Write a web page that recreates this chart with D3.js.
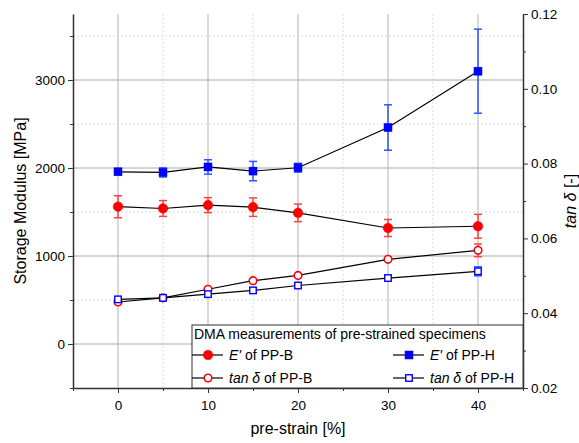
<!DOCTYPE html>
<html>
<head>
<meta charset="utf-8">
<script src="https://cdn.jsdelivr.net/npm/d3@7"></script>
<style>
  body { margin: 0; background: #fff; }
  svg { font-family: "Liberation Sans", Arial, sans-serif; }
</style>
</head>
<body>
<div id="chart-area"></div>
<script>
// pre-strain levels [%]
var strain = [0, 5, 10, 15, 20, 30, 40];

// storage modulus E' [MPa] with std dev
var eB    = [1560, 1540, 1578, 1555, 1490, 1318, 1338];
var eBerr = [125, 90, 85, 105, 100, 97, 135];
var eH    = [1957, 1950, 2012, 1965, 2003, 2460, 3100];
var eHerr = [20, 52, 82, 110, 50, 258, 478];

// tan delta [-]
var tB    = [0.0430, 0.0441, 0.0464, 0.0487, 0.0501, 0.0544, 0.0568];
var tBerr = [0, 0, 0, 0, 0, 0, 0.0017];
var tH    = [0.0437, 0.0441, 0.0451, 0.0461, 0.0474, 0.0494, 0.0512];
var tHerr = [0, 0, 0, 0, 0, 0, 0.0012];

var leftTicks = [0, 1000, 2000, 3000];
var rightTicks = [0.02, 0.04, 0.06, 0.08, 0.10, 0.12];
var xTicks = [0, 10, 20, 30, 40];

var margin = { left: 73, right: 56, top: 14, bottom: 55 };
var width = 579 - margin.left - margin.right,
    height = 443 - margin.top - margin.bottom;

var svg = d3.select("#chart-area")
    .append("svg")
        .attr("width", 579)
        .attr("height", 443);

var g = svg.append("g")
    .attr("transform", "translate(" + margin.left + "," + margin.top + ")");

var x = d3.scaleLinear().domain([-5, 45]).range([0, width]);
var y = d3.scaleLinear().domain([-500, 3750]).range([height, 0]);
var y2 = d3.scaleLinear().domain([0.02, 0.12]).range([height, 0]);

// grid: minor dotted, major solid
var minorX = [5, 15, 25, 35];
var minorY = [500, 1500, 2500, 3500];

g.selectAll(".gx-minor").data(minorX).enter().append("line")
    .attr("x1", d => x(d)).attr("x2", d => x(d))
    .attr("y1", 0).attr("y2", height)
    .attr("stroke", "#ddd").attr("stroke-dasharray", "2,2");
g.selectAll(".gy-minor").data(minorY).enter().append("line")
    .attr("x1", 0).attr("x2", width)
    .attr("y1", d => y(d)).attr("y2", d => y(d))
    .attr("stroke", "#ddd").attr("stroke-dasharray", "2,2");
g.selectAll(".gx").data(xTicks).enter().append("line")
    .attr("x1", d => x(d)).attr("x2", d => x(d))
    .attr("y1", 0).attr("y2", height)
    .attr("stroke", "#ccc").attr("stroke-width", 1.5);
g.selectAll(".gy").data(leftTicks).enter().append("line")
    .attr("x1", 0).attr("x2", width)
    .attr("y1", d => y(d)).attr("y2", d => y(d))
    .attr("stroke", "#aaa").attr("stroke-width", 1);

// axes
function styleAxis(sel) {
    sel.selectAll("path, line").attr("stroke", "#333");
    sel.select(".domain").attr("stroke-width", 1.5);
    sel.selectAll("text").attr("font-size", "13.5px").attr("fill", "#000");
}

var xAxisCall = d3.axisBottom(x).tickValues(xTicks).tickSize(5).tickSizeOuter(0);
var xAx = g.append("g")
    .attr("class", "x axis")
    .attr("transform", "translate(0," + height + ")")
    .call(xAxisCall);
xAx.selectAll("text").attr("dy", "1.0em");
styleAxis(xAx);
g.append("g")
    .attr("transform", "translate(0," + height + ")")
    .call(d3.axisBottom(x).tickValues([-5, 5, 15, 25, 35, 45]).tickSize(3).tickFormat(""))
    .call(s => s.select(".domain").remove())
    .selectAll("line").attr("stroke", "#333");

var yAxisCall = d3.axisLeft(y).tickValues(leftTicks).tickSize(5).tickSizeOuter(0)
    .tickFormat(d3.format("d"));
var yAx = g.append("g").attr("class", "y axis").call(yAxisCall);
styleAxis(yAx);
g.append("g")
    .call(d3.axisLeft(y).tickValues([-500].concat(minorY)).tickSize(3).tickFormat(""))
    .call(s => s.select(".domain").remove())
    .selectAll("line").attr("stroke", "#333");

var y2AxisCall = d3.axisRight(y2).tickValues(rightTicks).tickSize(5).tickSizeOuter(0)
    .tickFormat(d3.format(".2f"));
var y2Ax = g.append("g")
    .attr("class", "y2 axis")
    .attr("transform", "translate(" + width + ",0)")
    .call(y2AxisCall);
styleAxis(y2Ax);
g.append("g")
    .attr("transform", "translate(" + width + ",0)")
    .call(d3.axisRight(y2).tickValues([0.03, 0.05, 0.07, 0.09, 0.11]).tickSize(3).tickFormat(""))
    .call(s => s.select(".domain").remove())
    .selectAll("line").attr("stroke", "#333");

// axis labels
g.append("text")
    .attr("x", width / 2).attr("y", height + 46)
    .attr("font-size", "16px").attr("text-anchor", "middle")
    .text("pre-strain [%]");

g.append("text")
    .attr("transform", "rotate(-90)")
    .attr("x", -height / 2).attr("y", -47)
    .attr("font-size", "16px").attr("text-anchor", "middle")
    .text("Storage Modulus [MPa]");

var rl = g.append("text")
    .attr("transform", "rotate(-90)")
    .attr("x", -height / 2).attr("y", width + 53)
    .attr("font-size", "16px").attr("text-anchor", "middle");
rl.append("tspan").attr("font-style", "italic").text("tan \u03b4");
rl.append("tspan").text(" [-]");

// series
var series = [
    { vals: eB, err: eBerr, scale: y, color: "#ff0000", ecolor: "#ff4040", shape: "circle", filled: true },
    { vals: eH, err: eHerr, scale: y, color: "#0000ff", ecolor: "#3355ff", shape: "square", filled: true },
    { vals: tB, err: tBerr, scale: y2, color: "#ff0000", ecolor: "#ff4040", shape: "circle", filled: false },
    { vals: tH, err: tHerr, scale: y2, color: "#0000ff", ecolor: "#3355ff", shape: "square", filled: false }
];

function drawMarker(sel, s) {
    if (s.shape === "circle") {
        sel.append("circle")
            .attr("r", s.filled ? 4.8 : 3.8)
            .attr("fill", s.filled ? s.color : "#fff")
            .attr("stroke", s.color)
            .attr("stroke-width", s.filled ? 0.5 : 1.6);
    } else {
        var sz = s.filled ? 8 : 6.5;
        sel.append("rect")
            .attr("x", -sz / 2).attr("y", -sz / 2)
            .attr("width", sz).attr("height", sz)
            .attr("fill", s.filled ? s.color : "#fff")
            .attr("stroke", s.color)
            .attr("stroke-width", s.filled ? 0.5 : 1.4);
    }
}

series.forEach(function(s) {
    var pts = strain.map((d, i) => ({ x: d, v: s.vals[i], e: s.err[i] }));
    var line = d3.line().x(d => x(d.x)).y(d => s.scale(d.v));
    g.append("path").datum(pts)
        .attr("d", line).attr("fill", "none")
        .attr("stroke", "#000").attr("stroke-width", 1.2);

    var eb = g.selectAll(null).data(pts.filter(d => d.e > 0)).enter().append("g")
        .attr("stroke", s.ecolor).attr("stroke-width", 1.5);
    eb.append("line")
        .attr("x1", d => x(d.x)).attr("x2", d => x(d.x))
        .attr("y1", d => s.scale(d.v - d.e)).attr("y2", d => s.scale(d.v + d.e));
    eb.append("line")
        .attr("x1", d => x(d.x) - 4).attr("x2", d => x(d.x) + 4)
        .attr("y1", d => s.scale(d.v + d.e)).attr("y2", d => s.scale(d.v + d.e));
    eb.append("line")
        .attr("x1", d => x(d.x) - 4).attr("x2", d => x(d.x) + 4)
        .attr("y1", d => s.scale(d.v - d.e)).attr("y2", d => s.scale(d.v - d.e));

    var m = g.selectAll(null).data(pts).enter().append("g")
        .attr("transform", d => "translate(" + x(d.x) + "," + s.scale(d.v) + ")");
    drawMarker(m, s);
});

// legend
var lgX = 119, lgY = 311;
var legend = g.append("g").attr("transform", "translate(" + lgX + "," + lgY + ")");
legend.append("rect")
    .attr("width", width - lgX).attr("height", height - lgY)
    .attr("fill", "#fff").attr("stroke", "#333").attr("stroke-width", 1);
legend.append("text")
    .attr("x", 2).attr("y", 14)
    .attr("font-size", "14px")
    .text("DMA measurements of pre-strained specimens");

var legendItems = [
    { s: series[0], col: 0, row: 0, pre: "E'", post: " of PP-B" },
    { s: series[1], col: 1, row: 0, pre: "E'", post: " of PP-H" },
    { s: series[2], col: 0, row: 1, pre: "tan \u03b4", post: " of PP-B" },
    { s: series[3], col: 1, row: 1, pre: "tan \u03b4", post: " of PP-H" }
];
legendItems.forEach(function(it) {
    var row = legend.append("g")
        .attr("transform", "translate(" + (it.col * 201) + "," + (30 + it.row * 23) + ")");
    row.append("line").attr("x1", 0).attr("x2", 31)
        .attr("stroke", "#000").attr("stroke-width", 1.2);
    var mk = row.append("g").attr("transform", "translate(16,0)");
    drawMarker(mk, it.s);
    var t = row.append("text").attr("x", 37).attr("y", 5).attr("font-size", "14px");
    t.append("tspan").attr("font-style", "italic").text(it.pre);
    t.append("tspan").text(it.post);
});
</script>
</body>
</html>
